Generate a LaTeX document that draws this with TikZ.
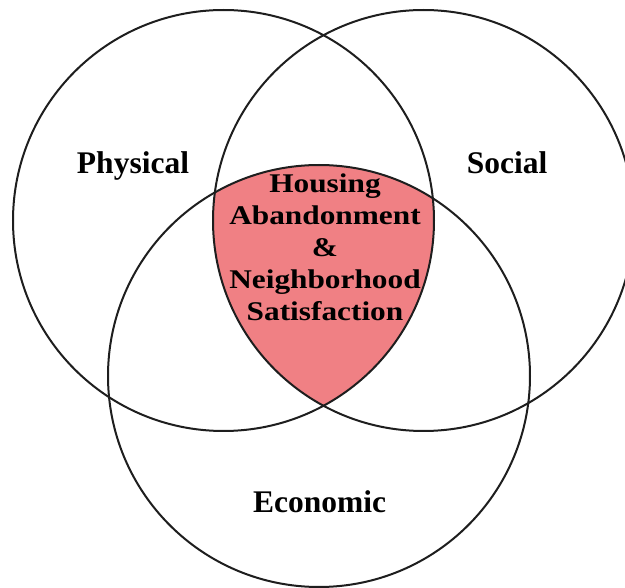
\documentclass[tikz,border=0pt]{standalone}
\usepackage{fontspec}
\setmainfont{Liberation Serif}
\definecolor{pinkfill}{RGB}{240,128,132}
\definecolor{ringcol}{RGB}{30,30,30}
\begin{document}
\begin{tikzpicture}[x=1pt,y=-1pt,
  ring/.style={draw=ringcol,line width=2pt},
  setlabel/.style={font=\fontsize{31.5}{36}\selectfont\bfseries,anchor=base,inner sep=0pt},
  corelabel/.style={font=\fontsize{27}{32}\selectfont\bfseries,align=center,inner sep=0pt,xscale=1.16,transform shape}]
\useasboundingbox (0,0) rectangle (625,588);
\clip (0,0) rectangle (625,588);
\coordinate (cL) at (223.5,220.5);
\coordinate (cR) at (423.5,220.5);
\coordinate (cB) at (319,376);
\begin{scope}
  \clip (cL) circle (210.5);
  \clip (cR) circle (210.5);
  \fill[pinkfill] (cB) circle (211);
\end{scope}
\draw[ring] (cL) circle (210.5);
\draw[ring] (cR) circle (210.5);
\draw[ring] (cB) circle (211);
\node[setlabel] (phys) at (133,174) {Physical};
\node[setlabel] (soc) at (507,174) {Social};
\node[setlabel] (econ) at (319.5,513) {Economic};
\node[corelabel] (core) at (325,247) {Housing\\Abandonment\\\&\\Neighborhood\\Satisfaction};
\end{tikzpicture}
\end{document}
